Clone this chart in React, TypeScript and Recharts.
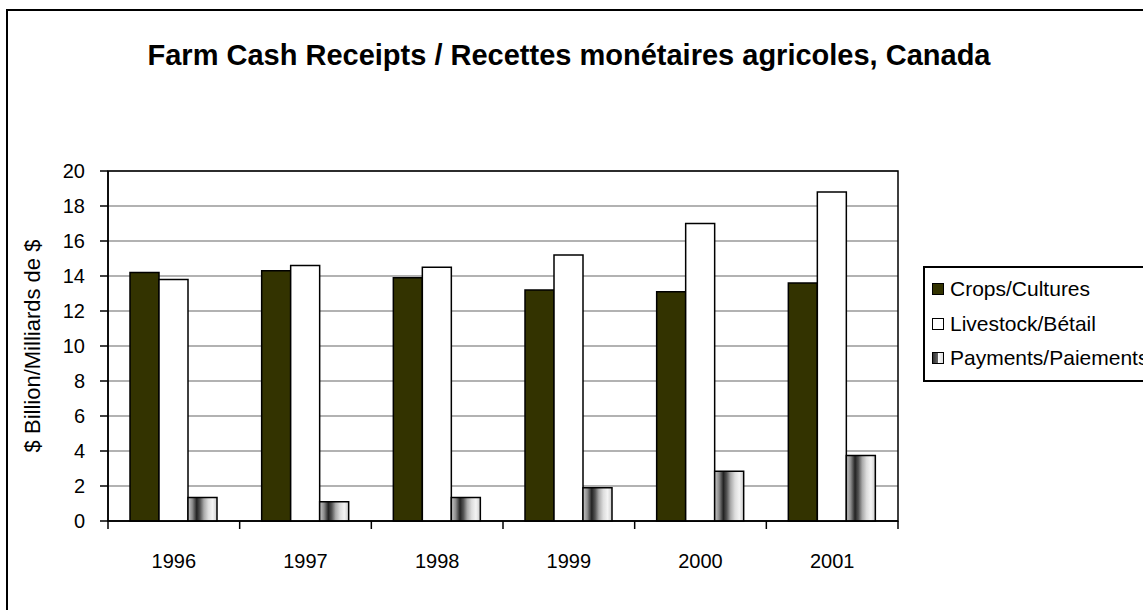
import { BarChart, Bar, XAxis, YAxis, CartesianGrid, ReferenceArea } from 'recharts';

const years = ['1996', '1997', '1998', '1999', '2000', '2001'];
const crops = [14.2, 14.3, 13.9, 13.2, 13.1, 13.6];
const livestock = [13.8, 14.6, 14.5, 15.2, 17.0, 18.8];
const payments = [1.35, 1.1, 1.35, 1.9, 2.85, 3.75];
const yTicks = [0, 2, 4, 6, 8, 10, 12, 14, 16, 18, 20];

const data = years.map((year, i) => ({
  year,
  crops: crops[i],
  livestock: livestock[i],
  payments: payments[i],
}));

const font = '"Liberation Sans", Arial, sans-serif';
const LABEL_GAP = 33;

// year label plus the little tick marks that sit between categories
const YearTick = (props: any) => {
  const { x, y, payload, index, visibleTicksCount } = props;
  const half = payload.offset || 0;
  const axisY = y - LABEL_GAP;
  const isLast = index === visibleTicksCount - 1;
  return (
    <g>
      <line x1={x - half} x2={x - half} y1={axisY} y2={axisY + 8} stroke="#000" strokeWidth={1.5} />
      {isLast && (
        <line x1={x + half} x2={x + half} y1={axisY} y2={axisY + 8} stroke="#000" strokeWidth={1.5} />
      )}
      <text x={x} y={y} dy="0.71em" textAnchor="middle" fill="#000" fontSize={20}>
        {payload.value}
      </text>
    </g>
  );
};

const LegendBox = () => {
  const items = [
    { label: 'Crops/Cultures', fill: '#333300' },
    { label: 'Livestock/Bétail', fill: '#ffffff' },
    { label: 'Payments/Paiements', fill: 'half' },
  ];
  return (
    <div
      style={{
        position: 'absolute',
        left: 923,
        top: 266,
        border: '2px solid #000',
        background: '#fff',
        padding: '4px 0 4px 7px',
        width: 280,
        fontFamily: font,
        fontSize: 21,
        color: '#000',
      }}
    >
      {items.map((it) => (
        <div key={it.label} style={{ display: 'flex', alignItems: 'center', height: 34.5 }}>
          <span
            style={{
              display: 'inline-block',
              width: 10,
              height: 10,
              border: '1.5px solid #000',
              marginRight: 6,
              background:
                it.fill === 'half'
                  ? 'linear-gradient(to right, #333 0%, #666 50%, #fff 50%, #ddd 100%)'
                  : it.fill,
            }}
          />
          <span style={{ whiteSpace: 'nowrap' }}>{it.label}</span>
        </div>
      ))}
    </div>
  );
};

const App = () => {
  return (
    <div
      style={{
        position: 'fixed',
        left: 0,
        top: 0,
        width: 1143,
        height: 610,
        overflow: 'hidden',
        background: '#fff',
      }}
    >
      <div
        style={{
          position: 'absolute',
          left: 6,
          top: 9,
          width: 1200,
          height: 700,
          border: '2px solid #000',
        }}
      />
      <div
        style={{
          position: 'absolute',
          left: 0,
          top: 39,
          width: 1138,
          textAlign: 'center',
          fontFamily: font,
          fontWeight: 'bold',
          fontSize: 29,
          color: '#000',
        }}
      >
        Farm Cash Receipts / Recettes monétaires agricoles, Canada
      </div>
      <div style={{ position: 'absolute', left: 0, top: 0 }}>
        <BarChart
          width={1143}
          height={610}
          data={data}
          margin={{ top: 171, right: 245, left: 0, bottom: 49 }}
          barCategoryGap={22}
          barGap={0}
          style={{ fontFamily: font }}
        >
          <defs>
            <linearGradient id="payGrad" x1="0" y1="0" x2="1" y2="0">
              <stop offset="0%" stopColor="#c8c8c8" />
              <stop offset="15%" stopColor="#8c8c8c" />
              <stop offset="30%" stopColor="#222222" />
              <stop offset="42%" stopColor="#555555" />
              <stop offset="55%" stopColor="#aaaaaa" />
              <stop offset="70%" stopColor="#dddddd" />
              <stop offset="85%" stopColor="#f4f4f4" />
              <stop offset="100%" stopColor="#cccccc" />
            </linearGradient>
          </defs>
          <CartesianGrid horizontal vertical={false} stroke="#999999" strokeWidth={1.5} />
          <XAxis
            dataKey="year"
            axisLine={{ stroke: '#000', strokeWidth: 1.5 }}
            tickLine={false}
            tickSize={0}
            tickMargin={LABEL_GAP}
            tick={<YearTick />}
            interval={0}
            height={40}
          />
          <YAxis
            domain={[0, 20]}
            ticks={yTicks}
            interval={0}
            width={108}
            axisLine={{ stroke: '#000', strokeWidth: 1.5 }}
            tickLine={{ stroke: '#000', strokeWidth: 1.5 }}
            tickSize={8}
            tickMargin={15}
            tick={{ fill: '#000', fontSize: 20 }}
            label={{
              value: '$ Billion/Milliards de $',
              angle: -90,
              position: 'insideLeft',
              offset: 32,
              style: { textAnchor: 'middle', fill: '#000', fontSize: 22 },
            }}
          />
          <ReferenceArea
            y1={0}
            y2={20}
            fill="none"
            stroke="#000"
            strokeWidth={1.5}
            ifOverflow="visible"
          />
          <Bar dataKey="crops" fill="#333300" stroke="#000" strokeWidth={1.5} isAnimationActive={false} />
          <Bar dataKey="livestock" fill="#ffffff" stroke="#000" strokeWidth={1.5} isAnimationActive={false} />
          <Bar dataKey="payments" fill="url(#payGrad)" stroke="#000" strokeWidth={1.5} isAnimationActive={false} />
        </BarChart>
      </div>
      <LegendBox />
    </div>
  );
};

export default App;
